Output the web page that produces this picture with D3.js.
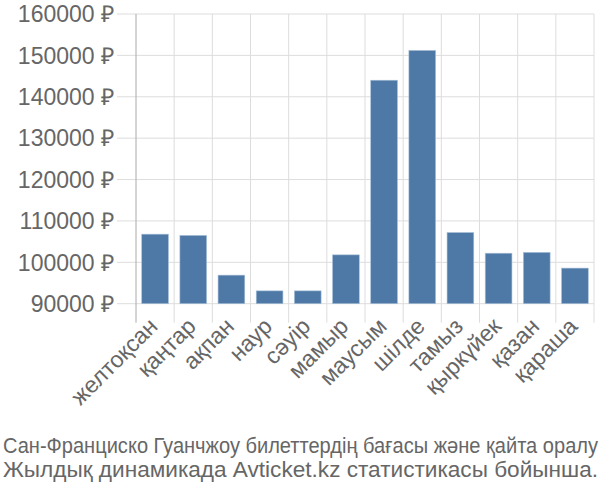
<!DOCTYPE html>
<html><head><meta charset="utf-8">
<script src="https://cdn.jsdelivr.net/npm/d3@7"></script>
<style>body{margin:0;background:#fff}svg{display:block}text{font-family:"Liberation Sans",Arial,sans-serif;fill:#666}</style>
</head><body><svg id="c" width="600" height="500"></svg>
<script>
const months = ["желтоқсан","қаңтар","ақпан","наур","сәуір","мамыр","маусым","шілде","тамыз","қыркүйек","қазан","қараша"];
const prices = [106800,106500,96900,93100,93100,101800,144000,151200,107200,102200,102400,98600];
const yTicks = [90000,100000,110000,120000,130000,140000,150000,160000];
const titleLines = ["Сан-Франциско Гуанчжоу билеттердің бағасы және қайта оралу","Жылдық динамикада Avticket.kz статистикасы бойынша."];

(function(){
const svg = d3.select("#c");
const L = 136, R = 594, T = 14, B = 303.7;
const x = d3.scaleBand().domain(months).range([L, R]).padding(0);
const y = d3.scaleLinear().domain([90000,160000]).range([B, T]);

svg.append("g").selectAll("line").data(yTicks).join("line")
  .attr("x1", L-19).attr("x2", R).attr("y1", d=>y(d)).attr("y2", d=>y(d))
  .attr("stroke","#ddd").attr("stroke-width",1);
const bounds = months.map(m=>x(m)).concat([R]);
svg.append("g").selectAll("line").data(bounds.slice(1)).join("line")
  .attr("x1", d=>d).attr("x2", d=>d).attr("y1", T).attr("y2", B+19)
  .attr("stroke","#ddd").attr("stroke-width",1);
svg.append("line").attr("x1",L).attr("x2",L).attr("y1",T).attr("y2",B+19)
  .attr("stroke","#aaa").attr("stroke-width",1);

const bw = x.bandwidth()*0.7;
svg.append("g").selectAll("rect").data(prices).join("rect")
  .attr("x",(d,i)=>x(months[i])+(x.bandwidth()-bw)/2)
  .attr("width",bw)
  .attr("y",d=>y(d)).attr("height",d=>B-y(d))
  .attr("fill","#4e79a7").attr("stroke","#a8c0d8").attr("stroke-width",0.6);

svg.append("g").selectAll("text").data(yTicks).join("text")
  .attr("x", 114).attr("y", d=>y(d)).attr("dy","0.36em").attr("text-anchor","end")
  .attr("font-size",23).text(d=>d+" ₽");

svg.append("g").selectAll("text").data(months).join("text")
  .attr("transform", d=>`translate(${x(d)+x.bandwidth()/2+4},${B+24}) rotate(-45)`)
  .attr("text-anchor","end").attr("font-size",23).text(d=>d);

svg.append("g").selectAll("text").data(titleLines).join("text")
  .attr("x",3).attr("y",(d,i)=>453+i*24).attr("font-size",22)
  .attr("textLength",595).attr("lengthAdjust","spacingAndGlyphs").text(d=>d);
})();
</script></body></html>
